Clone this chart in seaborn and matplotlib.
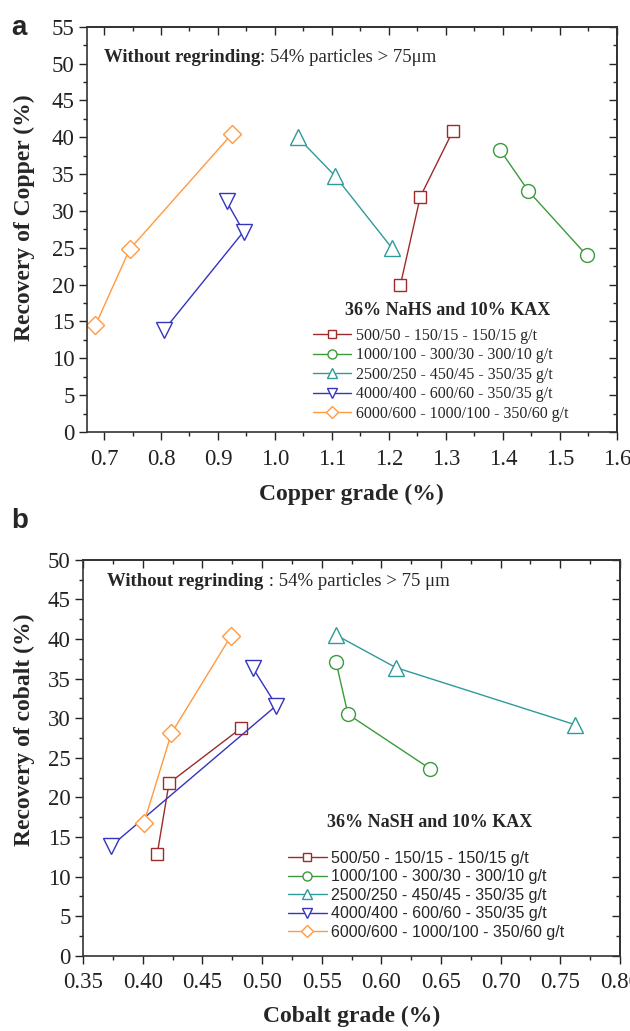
import pandas as pd
import matplotlib
matplotlib.use("Agg")
import matplotlib.pyplot as plt
from matplotlib.ticker import MultipleLocator, FormatStrFormatter
import seaborn as sns

# ---- data ----
series_labels = [
    "500/50 - 150/15 - 150/15 g/t",
    "1000/100 - 300/30 - 300/10 g/t",
    "2500/250 - 450/45 - 350/35 g/t",
    "4000/400 - 600/60 - 350/35 g/t",
    "6000/600 - 1000/100 - 350/60 g/t",
]

# panel a: copper
cu_grade = [
    [1.220, 1.255, 1.312],
    [1.395, 1.445, 1.547],
    [1.040, 1.105, 1.205],
    [0.915, 0.945, 0.805],
    [0.685, 0.745, 0.925],
]
cu_recovery = [
    [19.9, 31.9, 40.8],
    [38.3, 32.7, 24.0],
    [40.0, 34.8, 25.0],
    [31.3, 27.2, 13.8],
    [14.5, 24.8, 40.5],
]

# panel b: cobalt
co_grade = [
    [0.412, 0.422, 0.482],
    [0.562, 0.572, 0.641],
    [0.562, 0.612, 0.762],
    [0.492, 0.512, 0.373],
    [0.401, 0.424, 0.474],
]
co_recovery = [
    [12.8, 21.8, 28.7],
    [37.1, 30.5, 23.6],
    [40.5, 36.4, 29.2],
    [36.4, 31.6, 13.8],
    [16.8, 28.1, 40.4],
]

colors = ["#9E2A2C", "#3C9A3C", "#2E9A9A", "#3434BE", "#FF9A40"]
markers = ["s", "o", "^", "v", "D"]
msizes = [9, 10, 11, 11, 9]

sns.set_theme(style="white")
plt.rcParams["font.family"] = ["Liberation Serif", "DejaVu Serif"]

fig = plt.figure(figsize=(6.30, 10.31), dpi=100)
ax_a = fig.add_axes([0.138, 0.581, 0.841, 0.393])
ax_b = fig.add_axes([0.132, 0.073, 0.852, 0.384])


def draw_panel(ax, grades, recs, xlim, xmaj, xmin, ylim, xlabel, ylabel,
               xlabelpad, ylabel_xy, note_bold, note_rest, note_xy,
               leg_title, title_xy, leg_font, leg_anchor):
    for i in range(len(series_labels)):
        df = pd.DataFrame({"x": grades[i], "y": recs[i]})
        sns.lineplot(data=df, x="x", y="y", ax=ax, sort=False, estimator=None,
                     color=colors[i], lw=1.0, marker=markers[i],
                     markersize=msizes[i], markerfacecolor="white",
                     markeredgecolor=colors[i], markeredgewidth=1.0,
                     label=series_labels[i])
    ax.set_xlim(*xlim)
    ax.set_ylim(*ylim)
    ax.xaxis.set_major_locator(MultipleLocator(xmaj))
    ax.xaxis.set_minor_locator(MultipleLocator(xmin))
    ax.yaxis.set_major_locator(MultipleLocator(5))
    ax.yaxis.set_minor_locator(MultipleLocator(2.5))
    ax.tick_params(which="both", direction="out", bottom=True, left=True,
                   labelsize=16.5, colors="#222222", width=1.0)
    ax.tick_params(axis="x", pad=6)
    ax.tick_params(axis="y", pad=3)
    ax.tick_params(which="major", length=6)
    ax.tick_params(which="minor", length=3)
    for s in ax.spines.values():
        s.set_linewidth(1.2)
        s.set_color("#333333")

    # mirrored ticks pointing inward on top/right
    top = ax.secondary_xaxis("top")
    top.xaxis.set_major_locator(MultipleLocator(xmaj))
    top.xaxis.set_minor_locator(MultipleLocator(xmin))
    top.tick_params(which="both", direction="in", labeltop=False, width=1.0)
    top.tick_params(which="major", length=6)
    top.tick_params(which="minor", length=3)
    right = ax.secondary_yaxis("right")
    right.yaxis.set_major_locator(MultipleLocator(5))
    right.yaxis.set_minor_locator(MultipleLocator(2.5))
    right.tick_params(which="both", direction="in", labelright=False, width=1.0)
    right.tick_params(which="major", length=6)
    right.tick_params(which="minor", length=3)

    ax.set_xlabel(xlabel, fontsize=17, fontweight="bold", labelpad=xlabelpad)
    ax.set_ylabel(ylabel, fontsize=17, fontweight="bold")
    ax.yaxis.set_label_coords(*ylabel_xy)

    t1 = ax.text(note_xy[0], note_xy[1], note_bold, transform=ax.transAxes,
                 fontsize=13.5, fontweight="bold", va="center", ha="left")
    ax.annotate(note_rest, xy=(1, 0.5), xycoords=t1, va="center", ha="left",
                fontsize=13.5)

    ax.text(title_xy[0], title_xy[1], leg_title, transform=ax.transAxes,
            fontsize=13, fontweight="bold", ha="center", va="center")

    ax.legend(loc="upper left", bbox_to_anchor=leg_anchor, frameon=False,
              handlelength=2.4, handletextpad=0.3, borderpad=0,
              borderaxespad=0, labelspacing=0.22, markerscale=0.65,
              numpoints=1, prop={"family": leg_font, "size": 11.5})


draw_panel(ax_a, cu_grade, cu_recovery, (0.67, 1.6), 0.1, 0.05, (0, 55),
           "Copper grade (%)", "Recovery of Copper (%)", 10, (-0.098, 0.528),
           "Without regrinding", ": 54% particles > 75\u03bcm", (0.032, 0.925),
           "36% NaHS and 10% KAX", (0.681, 0.299),
           ["Liberation Serif"], (0.426, 0.257))
ax_a.xaxis.set_major_formatter(FormatStrFormatter("%.1f"))

draw_panel(ax_b, co_grade, co_recovery, (0.35, 0.80), 0.05, 0.025, (0, 50),
           "Cobalt grade (%)", "Recovery of cobalt (%)", 9, (-0.09, 0.571),
           "Without regrinding", " : 54% particles > 75 \u03bcm", (0.045, 0.946),
           "36% NaSH and 10% KAX", (0.646, 0.336),
           ["Liberation Sans"], (0.382, 0.265))
ax_b.xaxis.set_major_formatter(FormatStrFormatter("%.2f"))

fig.text(0.018, 0.985, "a", fontsize=20, fontweight="bold",
         family=["Liberation Sans"], va="top")
fig.text(0.018, 0.507, "b", fontsize=20, fontweight="bold",
         family=["Liberation Sans"], va="top")

fig.savefig("out.png", dpi=100)
